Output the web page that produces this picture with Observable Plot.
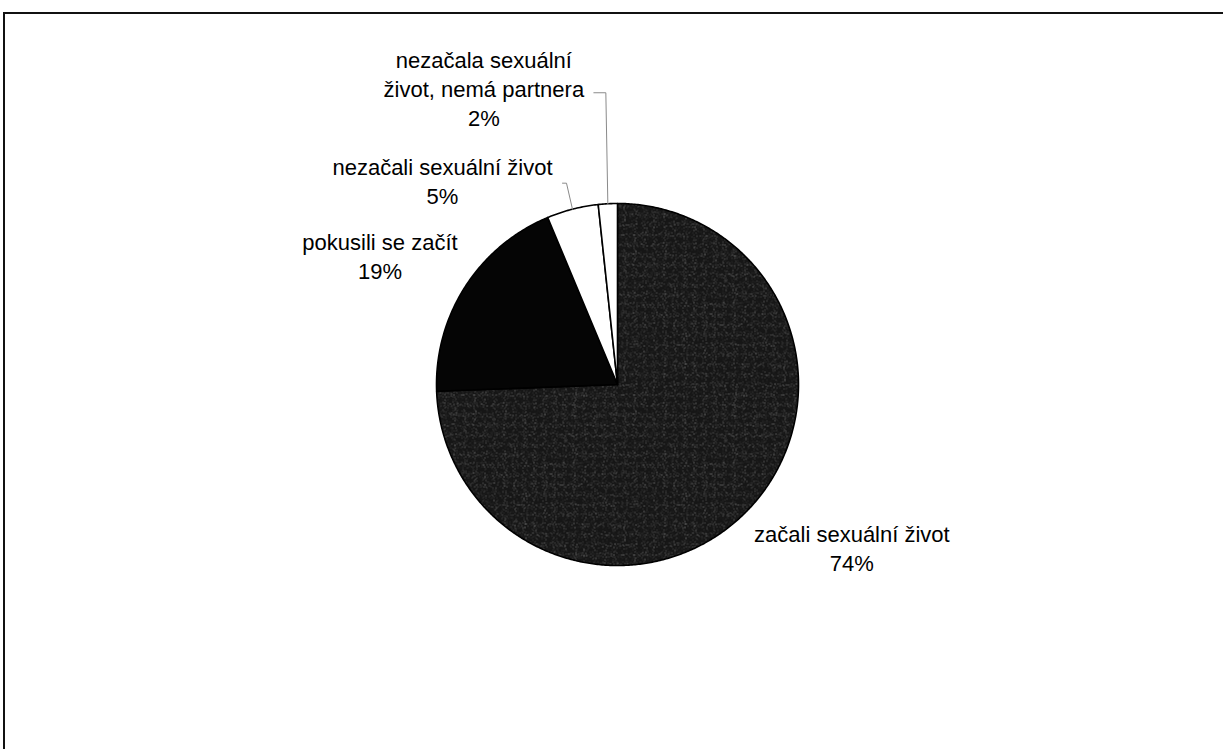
<!DOCTYPE html>
<html>
<head>
<meta charset="utf-8">
<script src="https://cdn.jsdelivr.net/npm/d3@7"></script>
<script src="https://cdn.jsdelivr.net/npm/@observablehq/plot@0.6"></script>
<style>
  html, body { margin: 0; padding: 0; background: #fff; }
  #wrap { position: relative; width: 1223px; height: 749px; overflow: hidden; background: #fff; }
  #frame { position: absolute; left: 3px; top: 12px; width: 1240px; height: 760px;
           border-left: 2px solid #111; border-top: 2px solid #111; box-sizing: border-box; pointer-events: none; }
  #chart { position: absolute; left: 0; top: 0; }
</style>
</head>
<body>
<div id="wrap"><div id="chart"></div><div id="frame"></div></div>
<script>
// ---- data ----
const categories = ["začali sexuální život", "pokusili se začít", "nezačali sexuální život", "nezačala sexuální\nživot, nemá partnera"];
const values = [74.4, 19.3, 4.6, 1.7];

// ---- styles / layout ----
const fills = ["url(#tex)", "#050505", "#ffffff", "#ffffff"];
const labelOffsets = [[104, 37], [-85, -32], [-130, -29], [-124, -116]]; // px from slice edge at mid-angle
const leaderBends = [null, null, [[-6, -26], [-10, -26]], [[-2, -111], [-14, -111]]]; // px from edge
const W = 1223, H = 749, CX = 617, CY = 384, R = 181;
const pxPerUnit = R;

// ---- geometry from data ----
const total = d3.sum(values);
let acc = 0;
const slices = values.map((v, i) => {
  const a0 = acc / total * 2 * Math.PI;
  acc += v;
  const a1 = acc / total * 2 * Math.PI;
  return {i, name: categories[i], value: v, a0, a1, mid: (a0 + a1) / 2};
});
function arcPoints(s) {
  const pts = [{x: 0, y: 0}];
  const n = Math.max(4, Math.ceil((s.a1 - s.a0) / (Math.PI / 360)));
  for (let k = 0; k <= n; k++) {
    const a = s.a0 + (s.a1 - s.a0) * k / n;
    pts.push({x: Math.sin(a), y: Math.cos(a)});
  }
  pts.push({x: 0, y: 0});
  return pts;
}
const labels = slices.map(s => {
  const [ox, oy] = labelOffsets[s.i];
  return {
    x: Math.sin(s.mid), y: Math.cos(s.mid), dx: ox, dy: oy,
    text: s.name + "\n" + Math.round(s.value) + "%"
  };
});
const leaders = [];
slices.forEach(s => {
  const b = leaderBends[s.i];
  if (!b) return;
  const ex = Math.sin(s.mid), ey = Math.cos(s.mid);
  leaders.push({id: s.i, x: ex, y: ey});
  b.forEach(([ox, oy]) => leaders.push({id: s.i, x: ex + ox / pxPerUnit, y: ey - oy / pxPerUnit}));
});

const marks = [];
slices.forEach(s => {
  marks.push(Plot.line(arcPoints(s), {x: "x", y: "y", fill: fills[s.i], stroke: "#000", strokeWidth: 1.6, strokeLinejoin: "round", curve: "linear"}));
});
marks.push(Plot.line(leaders, {x: "x", y: "y", z: "id", stroke: "#8a8a8a", strokeWidth: 1}));
labels.forEach(l => {
  marks.push(Plot.text([l], {x: "x", y: "y", text: "text", dx: l.dx, dy: l.dy,
    fontSize: 22, lineHeight: 1.32, fill: "#000", textAnchor: "middle"}));
});

const svg = Plot.plot({
  width: W, height: H,
  marginLeft: CX - R, marginRight: W - (CX + R),
  marginTop: CY - R, marginBottom: H - (CY + R),
  x: {domain: [-1, 1], axis: null},
  y: {domain: [-1, 1], axis: null},
  style: {fontFamily: "'Liberation Sans', Arial, sans-serif", background: "transparent"},
  marks
});
svg.insertAdjacentHTML("afterbegin", `
<defs>
  <filter id="noiseF" x="0" y="0" width="100%" height="100%">
    <feTurbulence type="fractalNoise" baseFrequency="0.9" numOctaves="1" seed="7" result="n"/>
    <feColorMatrix type="matrix" values="0 0 0 0 0.6  0 0 0 0 0.6  0 0 0 0 0.6  0 0 0 2.4 -1.35"/>
  </filter>
  <pattern id="tex" patternUnits="userSpaceOnUse" width="160" height="160">
    <rect width="160" height="160" fill="#161616"/>
    <rect width="160" height="160" filter="url(#noiseF)"/>
  </pattern>
</defs>`);
document.getElementById("chart").appendChild(svg);
</script>
</body>
</html>
